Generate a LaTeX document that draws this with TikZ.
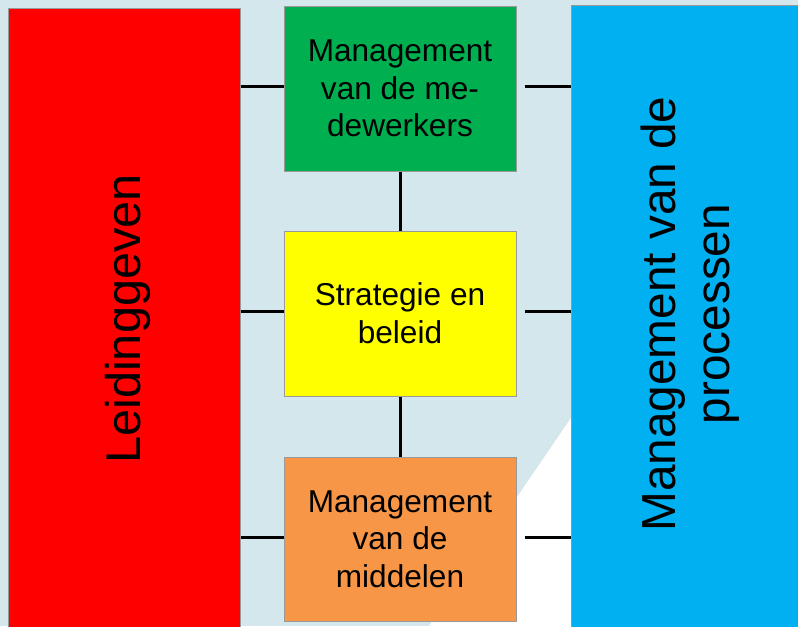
\documentclass[tikz,border=0pt]{standalone}
\usepackage{fontspec}
\setmainfont{Liberation Sans}
\definecolor{bgblue}{HTML}{D3E7EC}
\definecolor{boxred}{HTML}{FF0000}
\definecolor{boxgreen}{HTML}{00B050}
\definecolor{boxyellow}{HTML}{FFFF00}
\definecolor{boxorange}{HTML}{F79646}
\definecolor{boxblue}{HTML}{00B0F0}
\begin{document}
\begin{tikzpicture}[x=0.75pt,y=-0.75pt,
  box/.style={draw=gray!80, line width=0.75pt, rectangle, inner sep=0pt},
  smalltxt/.style={align=center, text=black, font=\fontsize{23.7}{28.25}\selectfont},
  bigtxt/.style={align=center, text=black, rotate=90, font=\fontsize{35.8}{41}\selectfont},
  link/.style={line width=2.25pt, black}]
\useasboundingbox (0,0) rectangle (798,626);
\clip (0,0) rectangle (798,626);
\fill[bgblue] (0,0) rectangle (798,626);
\fill[white] (571,418) -- (429,626) -- (571,626) -- cycle;
% boxes
\node[box, fill=boxred, minimum width=174pt, minimum height=481.5pt] (lead) at (124,329) {};
\node[box, fill=boxblue, minimum width=180pt, minimum height=483.75pt] (proc) at (691,327.5) {};
\node[box, fill=boxgreen, minimum width=174pt, minimum height=123.75pt, smalltxt] (mede) at (400,88.5) {Management\\van de me-\\dewerkers};
\node[box, fill=boxyellow, minimum width=174pt, minimum height=123.75pt, smalltxt] (strat) at (400,313.5) {Strategie en\\beleid};
\node[box, fill=boxorange, minimum width=174pt, minimum height=123pt, smalltxt] (midd) at (400,539) {Management\\van de\\middelen};
% rotated texts
\node[bigtxt, font=\fontsize{36.5}{42}\selectfont] (leadtxt) at (128,319) {Leidinggeven};
\node[bigtxt] (proctxt) at (690,314) {Management van de\\processen};
% connectors
\draw[link] ([yshift=1.5pt]lead.east |- mede.west) -- ([yshift=1.5pt]mede.west);
\draw[link] ([yshift=1.5pt]lead.east |- strat.west) -- ([yshift=1.5pt]strat.west);
\draw[link] ([yshift=1.5pt]lead.east |- midd.west) -- ([yshift=1.5pt]midd.west);
\draw[link] ([xshift=6pt,yshift=1.5pt]mede.east) -- ([yshift=1.5pt]proc.west |- mede.east);
\draw[link] ([xshift=6pt,yshift=1.5pt]strat.east) -- ([yshift=1.5pt]proc.west |- strat.east);
\draw[link] ([xshift=6pt,yshift=1.5pt]midd.east) -- ([yshift=1.5pt]proc.west |- midd.east);
\draw[link] (mede.south) -- (strat.north);
\draw[link] (strat.south) -- (midd.north);
\end{tikzpicture}
\end{document}
